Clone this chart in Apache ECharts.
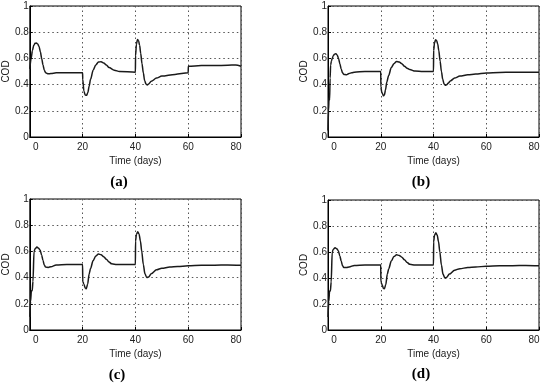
<!DOCTYPE html>
<html><head><meta charset="utf-8">
<script src="https://cdn.jsdelivr.net/npm/echarts@6/dist/echarts.min.js"></script>
<style>html,body{margin:0;padding:0;background:#fff}#c{width:550px;height:384px}</style>
</head><body><div id="c"></div>
<script>
// Data: [time (days), COD]
const seriesA = [[0,0.52],[0.5,0.6],[1,0.66],[1.5,0.7],[2,0.715],[2.5,0.717],[3,0.71],[3.5,0.69],[4,0.65],[4.5,0.6],[5,0.55],[5.5,0.51],[6,0.49],[7,0.482],[8,0.485],[10,0.49],[14,0.49],[20,0.49],
[20.05,0.44],[20.5,0.35],[21,0.32],[21.5,0.318],[22,0.34],[22.5,0.39],[23,0.44],[24,0.51],[25,0.55],[26,0.572],[27,0.575],[28,0.565],[29,0.55],[30,0.53],[32,0.51],[34,0.5],[40,0.495],
[40.05,0.62],[40.4,0.71],[40.8,0.745],[41.2,0.735],[41.6,0.7],[42,0.64],[42.5,0.56],[43,0.49],[43.5,0.43],[44,0.405],[44.5,0.397],[45,0.405],[46,0.425],[48,0.45],[50,0.465],[55,0.478],[60,0.49],
[60.05,0.54],[65,0.545],[70,0.545],[75,0.548],[78,0.55],[80,0.54]];
const seriesB = [[0,0.05],[0.2,0.2],[0.4,0.3],[0.6,0.28],[0.8,0.45],[1,0.55],[1.3,0.58],[1.6,0.6],[2,0.62],[2.5,0.632],[3,0.636],[3.5,0.625],[4,0.6],[4.5,0.56],[5,0.52],[5.5,0.49],[6,0.478],[7,0.475],[8,0.485],[9,0.49],[10,0.495],[14,0.5],[20,0.5],
[20.05,0.38],[20.4,0.34],[20.7,0.33],[21,0.315],[21.4,0.32],[21.8,0.36],[22.3,0.42],[23,0.47],[24,0.53],[25,0.56],[26,0.577],[27,0.572],[28,0.56],[29,0.54],[30,0.525],[31,0.515],[33,0.503],[36,0.5],[40,0.5],
[40.05,0.66],[40.4,0.72],[40.8,0.742],[41.2,0.735],[41.6,0.71],[42,0.66],[42.5,0.58],[43,0.5],[43.5,0.44],[44,0.405],[44.5,0.395],[45,0.398],[45.5,0.41],[46.5,0.43],[48,0.45],[50,0.465],[53,0.475],[56,0.48],[60,0.488],[65,0.493],[70,0.495],[75,0.495],[80,0.495]];
const seriesC = [[0,0.1],[0.3,0.22],[0.6,0.3],[0.9,0.3],[1.2,0.37],[1.6,0.6],[2,0.62],[2.7,0.633],[3.3,0.625],[3.9,0.61],[4.5,0.57],[5,0.53],[5.5,0.495],[6,0.48],[7,0.478],[8,0.483],[10,0.497],[14,0.5],[20,0.5],
[20.05,0.37],[20.5,0.35],[21,0.32],[21.4,0.315],[21.9,0.35],[22.5,0.43],[23,0.47],[24,0.53],[25,0.565],[26,0.58],[27,0.575],[28,0.56],[29,0.54],[30,0.52],[31,0.505],[33,0.5],[40,0.5],
[40.05,0.68],[40.4,0.73],[40.9,0.75],[41.4,0.73],[41.9,0.68],[42.4,0.6],[43,0.5],[43.6,0.43],[44.3,0.4],[45,0.405],[46,0.43],[48,0.46],[50,0.472],[53,0.48],[56,0.485],[60,0.49],[65,0.495],[70,0.495],[75,0.497],[80,0.495]];
const seriesD = [[0,0.1],[0.3,0.22],[0.6,0.3],[0.9,0.3],[1.2,0.37],[1.6,0.6],[2,0.62],[2.7,0.633],[3.3,0.625],[3.9,0.61],[4.5,0.57],[5,0.53],[5.5,0.495],[6,0.48],[7,0.48],[8,0.485],[10,0.497],[14,0.5],[20,0.5],
[20.05,0.37],[20.5,0.35],[21,0.32],[21.4,0.318],[21.9,0.35],[22.5,0.43],[23,0.47],[24,0.53],[25,0.565],[26,0.578],[27,0.574],[28,0.56],[29,0.54],[30,0.52],[31,0.505],[33,0.5],[40,0.5],
[40.05,0.68],[40.4,0.73],[40.9,0.748],[41.4,0.73],[41.9,0.68],[42.4,0.6],[43,0.5],[43.6,0.43],[44.3,0.4],[45,0.405],[46,0.43],[48,0.46],[50,0.472],[53,0.48],[56,0.485],[60,0.49],[65,0.495],[70,0.495],[75,0.497],[80,0.495]];
const captions = ['(a)','(b)','(c)','(d)'];
const xTicks = [0,20,40,60,80];
const yTicks = [0,0.2,0.4,0.6,0.8,1];

const grids = [
  {left:29, top:6, width:212, height:131},
  {left:328, top:6, width:211, height:131},
  {left:29, top:199, width:212, height:131},
  {left:328, top:200, width:211, height:130}
];
const capPos = [[119,182],[421,182],[117,375],[421,374]];
const allData = [seriesA, seriesB, seriesC, seriesD];
const txt = '#222';
const fam = 'Liberation Sans';
const option = {
  animation:false,
  backgroundColor:'#fff',
  grid: grids.map(g => Object.assign({show:true, borderColor:'#000', borderWidth:1, backgroundColor:'transparent'}, g)),
  xAxis: grids.map((g,i) => ({
    gridIndex:i, type:'value', min:xTicks[0], max:xTicks[xTicks.length-1], interval:20,
    name:'Time (days)', nameLocation:'middle', nameGap:19,
    nameTextStyle:{fontFamily:fam, fontSize:10, color:txt},
    axisLine:{lineStyle:{color:'#000', width:1}},
    axisTick:{show:true, inside:true, length:3, lineStyle:{color:'#000'}},
    axisLabel:{fontFamily:fam, fontSize:10, color:txt, margin:5,
      formatter: v => v===0 ? '{l|0}' : (v===80 ? '{r|80}' : String(v)),
      rich:{l:{padding:[0,0,0,12], fontSize:10, fontFamily:fam, color:txt},
            r:{padding:[0,10,0,0], fontSize:10, fontFamily:fam, color:txt}}},
    splitLine:{show:true, lineStyle:{color:'#555', type:[1.5,3], width:1}}
  })),
  yAxis: grids.map((g,i) => ({
    gridIndex:i, type:'value', min:yTicks[0], max:yTicks[yTicks.length-1], interval:0.2,
    name:'COD', nameLocation:'middle', nameGap:17, nameRotate:90,
    nameTextStyle:{fontFamily:fam, fontSize:10, color:txt},
    axisLine:{lineStyle:{color:'#000', width:1}},
    axisTick:{show:true, inside:true, length:3, lineStyle:{color:'#000'}},
    axisLabel:{fontFamily:fam, fontSize:10, color:txt, margin:1,
      formatter: v => String(Math.round(v*10)/10)},
    splitLine:{show:true, lineStyle:{color:'#555', type:[1.5,3], width:1}}
  })),
  series: allData.map((d,i) => ({
    type:'line', xAxisIndex:i, yAxisIndex:i, data:d, showSymbol:false,
    smooth:0.3, smoothMonotone:'x',
    lineStyle:{color:'#1a1a1a', width:1.5}
  })),
  graphic: captions.map((c,i) => ({
    type:'text', x:capPos[i][0], y:capPos[i][1],
    style:{text:c, align:'center', verticalAlign:'middle', font:'bold 15px "Liberation Serif"', fill:'#000'}
  }))
};
const chart = echarts.init(document.getElementById('c'), null, {renderer:'canvas'});
chart.setOption(option);
</script></body></html>
